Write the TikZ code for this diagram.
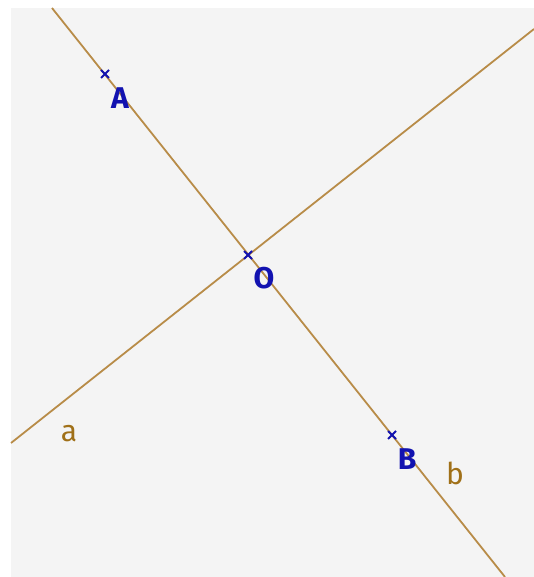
\documentclass[tikz,border=0pt]{standalone}
\usepackage{fontspec}
\setmainfont{Fira Sans}
\usetikzlibrary{positioning}
\definecolor{paper}{RGB}{244,244,244}
\definecolor{tan}{RGB}{184,140,72}
\definecolor{ochre}{RGB}{160,112,24}
\definecolor{ptblue}{RGB}{18,18,176}
\begin{document}
\begin{tikzpicture}[x=1pt,y=-1pt, every node/.style={font=\fontsize{30}{30}\selectfont,inner sep=0pt}]
    \useasboundingbox (0,0) rectangle (534,577);
    \fill[paper] (11,8) rectangle (534,577);
    % lines a and b
    \coordinate (a1) at (11,443);
    \coordinate (a2) at (534,29);
    \coordinate (b1) at (52,8);
    \coordinate (b2) at (505,577);
    \draw[tan,line width=1.8pt] (a1)--(a2);
    \draw[tan,line width=1.8pt] (b1)--(b2);
    % points
    \coordinate (A) at (105,74);
    \coordinate (O) at (248,255);
    \coordinate (B) at (392,435);
    \foreach \p in {A,O,B}{\draw[ptblue,line width=2pt] ([shift={(-4,-4)}]\p)--([shift={(4,4)}]\p) ([shift={(-4,4)}]\p)--([shift={(4,-4)}]\p);}
    \node[ptblue,font=\fontsize{30}{30}\selectfont\bfseries] (lA) at (120,98) {A};
    \node[ptblue,font=\fontsize{30}{30}\selectfont\bfseries] (lO) at (264,278) {O};
    \node[ptblue,font=\fontsize{30}{30}\selectfont\bfseries] (lB) at (407,459) {B};
    \node[ochre] (la) at (69,434) {a};
    \node[ochre] (lb) at (455,473) {b};
  \end{tikzpicture}
\end{document}
